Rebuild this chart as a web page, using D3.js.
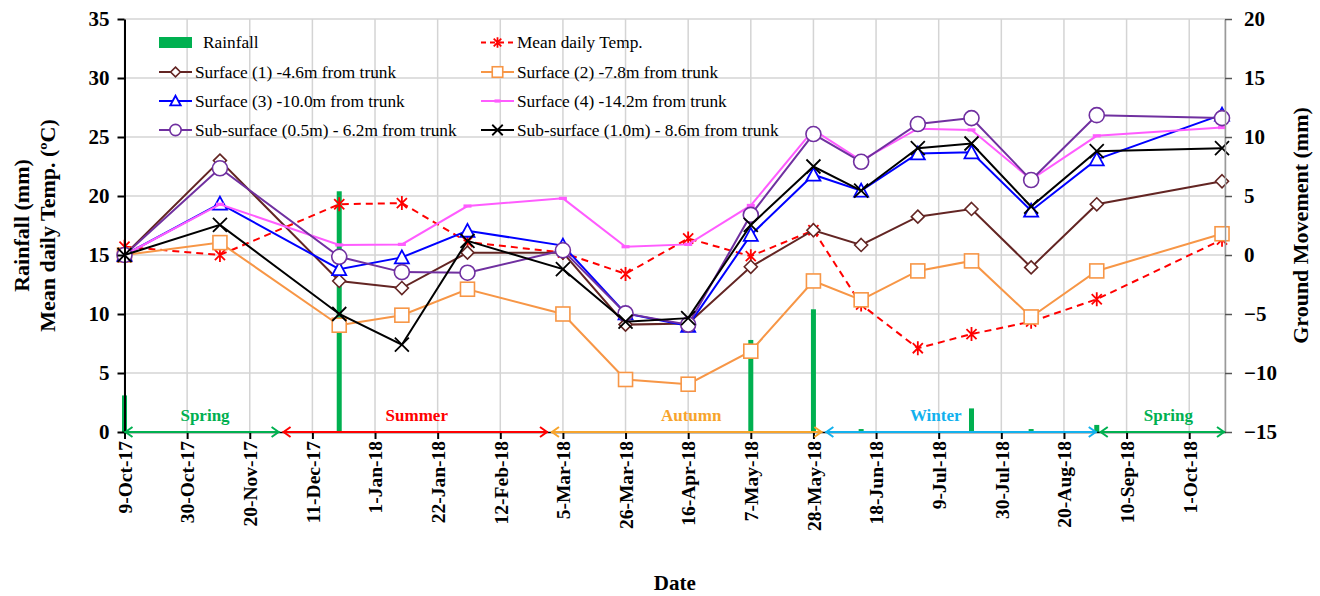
<!DOCTYPE html>
<html>
<head>
<meta charset="utf-8">
<script src="https://cdn.jsdelivr.net/npm/d3@7"></script>
<style>
  html, body { margin: 0; padding: 0; background: #fff; }
  svg { display: block; font-family: "Liberation Serif", "Times New Roman", serif; }
  svg text { font-family: "Liberation Serif", "Times New Roman", serif; }
</style>
</head>
<body>
<svg id="chart" width="1320" height="596"></svg>
<script>
// ---- Field observations -------------------------------------------------
const sampleDates = ["2017-10-09", "2017-11-10", "2017-12-20", "2018-01-10", "2018-02-01",
  "2018-03-05", "2018-03-26", "2018-04-16", "2018-05-07", "2018-05-28", "2018-06-13",
  "2018-07-02", "2018-07-20", "2018-08-09", "2018-08-31", "2018-10-12"];

// Mean daily temperature (ºC), left axis
const meanTemp = [15.7, 15.0, 19.3, 19.4, 16.1, 15.2, 13.4, 16.4, 14.9, 17.1, 10.8, 7.1, 8.3, 9.35, 11.25, 16.3];

// Ground movement (mm), right axis
const surface1 = [0, 8.0, -2.2, -2.8, 0.2, 0.2, -5.9, -5.8, -1.0, 2.1, 0.85, 3.25, 3.9, -1.05, 4.3, 6.25];
const surface2 = [0, 1.05, -5.95, -5.1, -2.9, -5.0, -10.55, -10.95, -8.15, -2.2, -3.8, -1.35, -0.5, -5.25, -1.35, 1.8];
const surface3 = [0, 4.35, -1.2, -0.2, 2.05, 0.8, -4.95, -6.0, 1.7, 6.8, 5.45, 8.6, 8.7, 3.75, 8.1, 11.9];
const surface4 = [0, 4.3, 0.85, 0.9, 4.15, 4.8, 0.7, 0.9, 4.2, 10.6, 8.0, 10.7, 10.6, 6.4, 10.1, 10.8];
const subSurface05 = [0, 7.35, -0.15, -1.45, -1.5, 0.4, -4.95, -5.9, 3.4, 10.25, 7.9, 11.1, 11.6, 6.35, 11.85, 11.6];
const subSurface10 = [0, 2.55, -5.0, -7.6, 1.2, -1.2, -5.65, -5.35, 2.55, 7.5, 5.45, 9.05, 9.45, 4.1, 8.8, 9.05];

// Rainfall (mm), left axis
const rainDates = ["2017-10-09", "2017-12-20", "2018-05-07", "2018-05-28", "2018-06-13", "2018-07-20", "2018-08-09", "2018-08-31"];
const rainfall = [3.1, 20.4, 7.8, 10.4, 0.25, 2.0, 0.25, 0.6];

// Axis ticks
const dateTicks = ["2017-10-09", "2017-10-30", "2017-11-20", "2017-12-11", "2018-01-01", "2018-01-22",
  "2018-02-12", "2018-03-05", "2018-03-26", "2018-04-16", "2018-05-07", "2018-05-28", "2018-06-18",
  "2018-07-09", "2018-07-30", "2018-08-20", "2018-09-10", "2018-10-01"];
const leftTicks = [0, 5, 10, 15, 20, 25, 30, 35];
const rightTicks = [-15, -10, -5, 0, 5, 10, 15, 20];

// Seasons
const seasonNames = ["Spring", "Summer", "Autumn", "Winter", "Spring"];
const seasonStarts = ["2017-10-09", "2017-12-01", "2018-03-01", "2018-06-01", "2018-09-01"];
const seasonEnds = ["2017-11-30", "2018-02-28", "2018-05-31", "2018-08-31", "2018-10-13"];
const seasonLabelDates = ["2017-11-05", "2018-01-15", "2018-04-17", "2018-07-08", "2018-09-24"];

// ---- Layout & styles ----------------------------------------------------
const W = 1320, H = 596;
const plot = { left: 124.5, right: 1225, top: 19, bottom: 432 };
const FONT = "Liberation Serif";
const parse = d3.timeParse("%Y-%m-%d");
const fmt = d3.timeFormat("%-d-%b-%y");

const seasonColors = ["#00b050", "#ff0000", "#f7a42c", "#12b1ee", "#00b050"];
const gridColor = "#d4d4d4";

const lineSeries = [
  { name: "Mean daily Temp.", values: meanTemp, axis: "left", color: "#ff0000", marker: "asterisk", dash: "7,5" },
  { name: "Surface (1) -4.6m from trunk", values: surface1, axis: "right", color: "#632523", marker: "diamond" },
  { name: "Surface (2) -7.8m from trunk", values: surface2, axis: "right", color: "#f79646", marker: "square" },
  { name: "Surface (3) -10.0m from trunk", values: surface3, axis: "right", color: "#0000ff", marker: "triangle" },
  { name: "Surface (4) -14.2m from trunk", values: surface4, axis: "right", color: "#ff5cff", marker: "dash" },
  { name: "Sub-surface (0.5m) - 6.2m from trunk", values: subSurface05, axis: "right", color: "#7030a0", marker: "circle" },
  { name: "Sub-surface (1.0m) - 8.6m from trunk", values: subSurface10, axis: "right", color: "#000000", marker: "cross" }
];

// legend grid: two columns, four rows
const legendCols = [159, 481];
const legendRows = [42.5, 72, 101, 130];

// ---- Scales -------------------------------------------------------------
const x = d3.scaleTime()
  .domain([parse("2017-10-09"), parse("2018-10-13")])
  .range([plot.left, plot.right]);
const yL = d3.scaleLinear().domain([0, 35]).range([plot.bottom, plot.top]);
const yR = d3.scaleLinear().domain([-15, 20]).range([plot.bottom, plot.top]);

const svg = d3.select("#chart");

// ---- Grid ---------------------------------------------------------------
const grid = svg.append("g");
grid.selectAll("line.h").data(leftTicks.filter(v => v > 0)).join("line")
  .attr("x1", plot.left).attr("x2", plot.right)
  .attr("y1", d => yL(d)).attr("y2", d => yL(d))
  .attr("stroke", gridColor).attr("stroke-width", 1.5);
grid.selectAll("line.v").data(dateTicks.map(parse).concat([x.domain()[1]])).join("line")
  .attr("x1", d => x(d)).attr("x2", d => x(d))
  .attr("y1", plot.top).attr("y2", plot.bottom)
  .attr("stroke", gridColor).attr("stroke-width", 1.5);

// ---- Rainfall bars --------------------------------------------------------
svg.append("g").selectAll("rect").data(rainDates.map((d, i) => ({ date: parse(d), v: rainfall[i] }))).join("rect")
  .attr("x", d => x(d.date) - 2.5)
  .attr("width", 5)
  .attr("y", d => yL(d.v))
  .attr("height", d => yL(0) - yL(d.v))
  .attr("fill", "#00b050");

// ---- Markers --------------------------------------------------------------
function drawMarker(g, type, color, s) {
  s = s || 1;
  if (type === "diamond") {
    const r = 6.5 * s;
    g.append("path").attr("d", `M0,${-r}L${r},0L0,${r}L${-r},0Z`)
      .attr("fill", "#fff").attr("stroke", color).attr("stroke-width", 1.6);
  } else if (type === "square") {
    const r = 7 * s;
    g.append("rect").attr("x", -r).attr("y", -r).attr("width", 2 * r).attr("height", 2 * r)
      .attr("fill", "#fff").attr("stroke", color).attr("stroke-width", 1.6);
  } else if (type === "triangle") {
    const r = 7 * s;
    g.append("path").attr("d", `M0,${-r}L${r},${r * 0.85}L${-r},${r * 0.85}Z`)
      .attr("fill", "#fff").attr("stroke", color).attr("stroke-width", 1.8);
  } else if (type === "circle") {
    g.append("circle").attr("r", 7.5 * s)
      .attr("fill", "#fff").attr("stroke", color).attr("stroke-width", 1.6);
  } else if (type === "cross") {
    const r = 7 * s;
    g.append("path").attr("d", `M${-r},${-r}L${r},${r}M${-r},${r}L${r},${-r}`)
      .attr("stroke", color).attr("stroke-width", 1.8).attr("fill", "none");
  } else if (type === "asterisk") {
    const r = 7 * s;
    const a = r * 0.72;
    g.append("path").attr("d", `M${-a},${-a}L${a},${a}M${-a},${a}L${a},${-a}M0,${-r}L0,${r}`)
      .attr("stroke", color).attr("stroke-width", 1.8).attr("fill", "none");
  } else if (type === "dash") {
    g.append("rect").attr("x", -4 * s).attr("y", -1.6).attr("width", 8 * s).attr("height", 3.2)
      .attr("fill", color);
  }
}

// ---- Line series ----------------------------------------------------------
const dates = sampleDates.map(parse);
lineSeries.forEach(s => {
  const y = s.axis === "left" ? yL : yR;
  const pts = s.values.map((v, i) => [x(dates[i]), y(v)]);
  const g = svg.append("g");
  g.append("path")
    .attr("d", d3.line()(pts))
    .attr("fill", "none")
    .attr("stroke", s.color)
    .attr("stroke-width", 2)
    .attr("stroke-dasharray", s.dash || null);
  pts.forEach(p => {
    const m = g.append("g").attr("transform", `translate(${p[0]},${p[1]})`);
    drawMarker(m, s.marker, s.color);
  });
});

// ---- Axes -----------------------------------------------------------------
const leftAxis = svg.append("g").attr("transform", `translate(${plot.left},0)`)
  .call(d3.axisLeft(yL).tickValues(leftTicks).tickSize(7).tickSizeOuter(0).tickPadding(8));
leftAxis.select(".domain").attr("stroke", "#000").attr("stroke-width", 2);
leftAxis.selectAll(".tick line").attr("stroke", "#000").attr("stroke-width", 2);
leftAxis.selectAll("text").attr("font-size", 21).attr("font-weight", "bold")
  .attr("font-family", FONT).attr("fill", "#000");

const rightAxis = svg.append("g").attr("transform", `translate(${plot.right},0)`)
  .call(d3.axisRight(yR).tickValues(rightTicks).tickSize(7).tickSizeOuter(0).tickPadding(12));
rightAxis.select(".domain").attr("stroke", "#9a9a9a").attr("stroke-width", 1.5);
rightAxis.selectAll(".tick line").attr("stroke", "#555").attr("stroke-width", 1.5);
rightAxis.selectAll("text").attr("font-size", 21).attr("font-weight", "bold")
  .attr("font-family", FONT).attr("fill", "#000");

const bottomAxis = svg.append("g").attr("transform", `translate(0,${plot.bottom})`)
  .call(d3.axisBottom(x).tickValues(dateTicks.map(parse)).tickFormat(fmt).tickSize(7).tickSizeOuter(0));
bottomAxis.select(".domain").attr("stroke", "#000").attr("stroke-width", 1.5);
bottomAxis.selectAll(".tick line").attr("stroke", "#000").attr("stroke-width", 2);
bottomAxis.selectAll("text")
  .attr("font-size", 19.5).attr("font-weight", "bold").attr("font-family", FONT).attr("fill", "#000")
  .attr("transform", "rotate(-90)")
  .attr("x", -9).attr("y", 0).attr("dy", "0.35em")
  .style("text-anchor", "end");

// ---- Season arrows ---------------------------------------------------------
const seasons = svg.append("g");
seasonNames.forEach((name, i) => {
  const x0 = x(parse(seasonStarts[i])), x1 = x(parse(seasonEnds[i]));
  const c = seasonColors[i];
  const y0 = plot.bottom;
  const g = seasons.append("g").attr("stroke", c).attr("stroke-width", 2).attr("fill", "none");
  g.append("line").attr("x1", x0).attr("x2", x1).attr("y1", y0).attr("y2", y0);
  g.append("path").attr("d", `M${x0 + 8},${y0 - 5}L${x0 + 1},${y0}L${x0 + 8},${y0 + 5}`);
  g.append("path").attr("d", `M${x1 - 8},${y0 - 5}L${x1 - 1},${y0}L${x1 - 8},${y0 + 5}`);
  seasons.append("text")
    .attr("x", x(parse(seasonLabelDates[i]))).attr("y", y0 - 11)
    .attr("text-anchor", "middle").attr("font-size", 17).attr("font-weight", "bold")
    .attr("font-family", FONT).attr("fill", c).text(name);
});

// ---- Legend ----------------------------------------------------------------
const legend = svg.append("g").attr("font-size", 17.3).attr("font-family", FONT).attr("fill", "#000");
const legendItems = [{ name: "Rainfall", rain: true }].concat(lineSeries);
legendItems.forEach((s, i) => {
  const col = i % 2, row = Math.floor(i / 2);
  const lx = legendCols[col], ly = legendRows[row];
  const g = legend.append("g").attr("transform", `translate(${lx},${ly})`);
  if (s.rain) {
    g.append("rect").attr("x", 0).attr("y", -5.5).attr("width", 33).attr("height", 11).attr("fill", "#00b050");
    g.append("text").attr("x", 44).attr("dy", "0.33em").text(s.name);
  } else {
    g.append("line").attr("x1", 0).attr("x2", 33).attr("y1", 0).attr("y2", 0)
      .attr("stroke", s.color).attr("stroke-width", 2).attr("stroke-dasharray", s.dash ? "5,4" : null);
    const m = g.append("g").attr("transform", "translate(16.5,0)");
    drawMarker(m, s.marker, s.color, 0.75);
    g.append("text").attr("x", 36).attr("dy", "0.33em").text(s.name);
  }
});

// ---- Axis titles -------------------------------------------------------------
const midY = (plot.top + plot.bottom) / 2;
const titles = svg.append("g").attr("font-family", FONT).attr("font-weight", "bold").attr("fill", "#000");
titles.append("text")
  .attr("transform", `translate(21,${midY}) rotate(-90)`)
  .attr("text-anchor", "middle").attr("dy", "0.35em")
  .attr("font-size", 22).text("Rainfall (mm)");
titles.append("text")
  .attr("transform", `translate(47,${midY}) rotate(-90)`)
  .attr("text-anchor", "middle").attr("dy", "0.35em")
  .attr("font-size", 22).text("Mean daily Temp. (ºC)");
titles.append("text")
  .attr("transform", `translate(1300,${midY}) rotate(-90)`)
  .attr("text-anchor", "middle").attr("dy", "0.35em")
  .attr("font-size", 22).text("Ground Movement (mm)");
titles.append("text")
  .attr("x", (plot.left + plot.right) / 2).attr("y", 590)
  .attr("text-anchor", "middle")
  .attr("font-size", 21).text("Date");
</script>
</body>
</html>
